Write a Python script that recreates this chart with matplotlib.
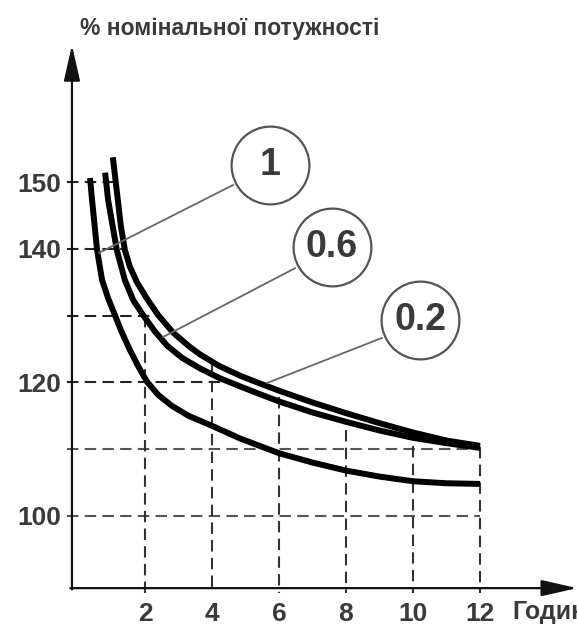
import matplotlib
matplotlib.use("Agg")
import matplotlib.pyplot as plt

# values
HOURS_TICKS = [2, 4, 6, 8, 10, 12]
LOAD_TICKS = [100, 120, 140, 150]

CURVE_1_X = [0.36, 0.42, 0.57, 0.72, 0.90, 1.10, 1.30, 1.55, 1.80, 2.06, 2.40, 2.80,
             3.30, 4.00, 4.84, 6.00, 7.00, 8.00, 9.00, 10.0, 11.0, 12.0]
CURVE_1_Y = [150.6, 147.3, 139.8, 135.3, 132.6, 130.1, 127.6, 124.85, 122.4, 120.1, 118.1, 116.5,
             115.0, 113.5, 111.6, 109.4, 108.0, 106.8, 105.9, 105.2, 104.9, 104.8]

CURVE_06_X = [0.81, 0.90, 1.16, 1.40, 1.65, 1.94, 2.30, 2.66, 3.10, 3.64, 4.20, 4.84,
              5.40, 6.03, 7.00, 8.00, 9.00, 10.0, 11.0, 12.0]
CURVE_06_Y = [151.4, 147.3, 139.8, 135.3, 132.3, 130.1, 127.6, 125.5, 123.7, 122.1, 120.7, 119.4,
              118.3, 117.1, 115.5, 114.1, 112.8, 111.7, 110.9, 110.2]

CURVE_02_X = [1.04, 1.19, 1.28, 1.40, 1.55, 1.76, 2.05, 2.39, 2.85, 3.34, 3.64, 4.20,
              4.84, 5.40, 6.03, 7.00, 8.00, 9.00, 10.0, 11.0, 12.0]
CURVE_02_Y = [153.7, 147.3, 143.4, 139.8, 137.3, 135.0, 132.6, 130.1, 127.4, 125.3, 124.2, 122.5,
              121.0, 119.9, 118.7, 117.0, 115.4, 113.9, 112.5, 111.3, 110.5]

LABELS = ["1", "0.6", "0.2"]
LABEL_X = [5.73, 7.58, 10.21]
LABEL_Y = [152.5, 140.2, 129.3]
LEADER_X = [[4.63, 0.63], [6.48, 2.54], [9.07, 5.64]]
LEADER_Y = [[149.55, 139.4], [137.1, 126.8], [126.65, 119.9]]

H_LEVELS = [150, 140, 130, 120, 110, 100]
H_ENDS = [1.10, 1.40, 2.39, 4.60, 12.0, 12.0]
V_HOURS = [2, 4, 6, 8, 10, 12]
V_TOPS = [130.0, 122.9, 117.8, 112.9, 110.5, 110.4]

AXIS_X0 = -0.18
AXIS_Y0 = 89.2

fig = plt.figure(figsize=(5.77, 6.27), dpi=100)
ax = fig.add_axes([0, 0, 1, 1])
ax.set_xlim(-2.328, 14.896)
ax.set_ylim(83.38, 177.25)

for s in ax.spines.values():
    s.set_visible(False)
ax.spines["left"].set_position(("data", AXIS_X0))
ax.spines["bottom"].set_position(("data", AXIS_Y0))

txt_color = "#3a3a3a"
tick_font = dict(family=["Liberation Sans", "DejaVu Sans"], weight="bold", size=19)
ax.set_xticks(HOURS_TICKS)
ax.set_xticklabels([str(v) for v in HOURS_TICKS], fontdict=tick_font, color=txt_color)
ax.set_yticks(LOAD_TICKS)
ax.set_yticklabels([str(v) for v in LOAD_TICKS], fontdict=tick_font, color=txt_color)
ax.tick_params(axis="x", length=0, pad=10)
ax.tick_params(axis="y", length=0, pad=8)

# dashed guide lines
dash = (5.5, 3)
for lvl, end in zip(H_LEVELS, H_ENDS):
    col = "#222222" if lvl > 115 else "#555555"
    ax.plot([AXIS_X0 - 0.15, end], [lvl, lvl], color=col, lw=1.5,
            dashes=dash, zorder=2)
for h, top in zip(V_HOURS, V_TOPS):
    ax.plot([h, h], [top, AXIS_Y0 - 0.7], color="#333333", lw=1.5,
            dashes=dash, zorder=2)

# curves
for cx, cy in [(CURVE_1_X, CURVE_1_Y), (CURVE_06_X, CURVE_06_Y), (CURVE_02_X, CURVE_02_Y)]:
    ax.plot(cx, cy, color="black", lw=4.3, solid_capstyle="butt",
            solid_joinstyle="round", zorder=3)

# leader lines and circled labels
for lab, lx, ly, ldx, ldy in zip(LABELS, LABEL_X, LABEL_Y, LEADER_X, LEADER_Y):
    ax.plot(ldx, ldy, color="#666666", lw=1.3, zorder=3)
    ax.plot([lx], [ly], marker="o", ms=56, mfc="white", mec="#555555",
            mew=1.6, zorder=4)
    ax.text(lx, ly, lab, ha="center", va="center", fontsize=27,
            fontweight="bold", color=txt_color,
            family=["Liberation Sans", "DejaVu Sans"], zorder=5)

# axes with arrows
arrow = dict(arrowstyle="-|>,head_length=1.1,head_width=0.25", lw=1.6,
             color="#111111", mutation_scale=20, shrinkA=0, shrinkB=0)
ax.annotate("", xy=(AXIS_X0, 170.5), xytext=(AXIS_X0, AXIS_Y0 - 0.2),
            arrowprops=arrow, zorder=6)
ax.annotate("", xy=(14.9, AXIS_Y0), xytext=(AXIS_X0 - 0.05, AXIS_Y0),
            arrowprops=arrow, zorder=6)

ax.text(0.06, 173.0, "% номінальної потужності", ha="left", va="center",
        fontsize=16.5, fontweight="bold", color=txt_color,
        family=["Liberation Sans", "DejaVu Sans"])
ax.text(12.96, 85.6, "Годин", ha="left", va="center", fontsize=18,
        fontweight="bold", color=txt_color,
        family=["Liberation Sans", "DejaVu Sans"])

fig.savefig("out.png", dpi=100)
